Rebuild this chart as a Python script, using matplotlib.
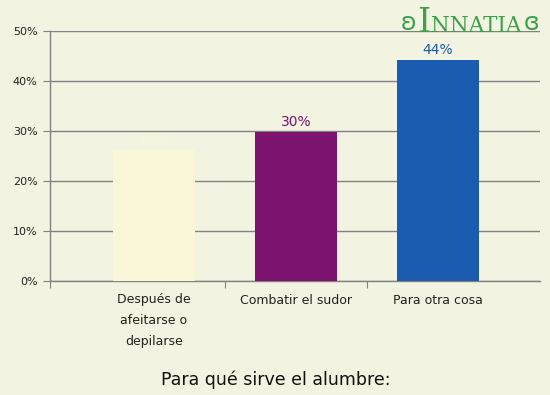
import matplotlib.pyplot as plt

# Chart data
categories = ["Después de\nafeitarse o\ndepilarse", "Combatir el sudor", "Para otra cosa"]
values = [26.2, 29.8, 44.3]
value_labels = ["26%", "30%", "44%"]
bar_colors = ["#faf6d8", "#7b126e", "#1b5cb0"]
y_ticks = [0, 10, 20, 30, 40, 50]
y_tick_labels = ["0%", "10%", "20%", "30%", "40%", "50%"]
title = "Para qué sirve el alumbre:"

bg = "#f2f3e1"
grid_col = "#828282"
logo_col = "#3ba24a"

fig = plt.figure(figsize=(5.5, 3.95), dpi=100, facecolor=bg)
ax = fig.add_axes([50 / 550, 1 - 281 / 395, 490 / 550, 250 / 395])
ax.set_facecolor(bg)

x = list(range(len(categories)))
ax.bar(x, values, width=0.577, color=bar_colors, zorder=3)

# value labels above bars
for xi, v, lab, c in zip(x, values, value_labels, bar_colors):
    ax.text(xi, v + 0.6, lab, ha="center", va="bottom", fontsize=10, color=c, zorder=4)

ax.set_xlim(-0.732, 2.718)
ax.set_ylim(0, 50)

# horizontal grid
ax.set_yticks(y_ticks, y_tick_labels)
ax.yaxis.grid(True, color=grid_col, linewidth=1)
ax.set_axisbelow(True)
ax.tick_params(axis="y", length=5, color=grid_col, labelsize=8, pad=4, labelcolor="#222222")

# separator ticks between categories, labels centred on bars
ax.set_xticks([ax.get_xlim()[0], 0.5, 1.5], ["", "", ""])
ax.tick_params(axis="x", which="major", length=5, color=grid_col)
ax.set_xticks(x, categories, minor=True)
ax.tick_params(axis="x", which="minor", length=0, pad=9, labelsize=9, labelcolor="#222222")
for t in ax.get_xticklabels(minor=True):
    t.set_linespacing(1.75)
    t.set_va("top")

for s in ["top", "right"]:
    ax.spines[s].set_visible(False)
for s in ["left", "bottom"]:
    ax.spines[s].set_color(grid_col)
    ax.spines[s].set_linewidth(1)

fig.text(276 / 550, 1 - 380 / 395, title, ha="center", va="center", fontsize=12.5, color="#111111")

# logo
fig.text(409 / 550, 1 - 23 / 395, "ʚ", ha="center", va="center", fontsize=17, color=logo_col)
fig.text(424 / 550, 1 - 32 / 395, "I", ha="center", va="baseline", fontsize=24,
         color=logo_col, family="DejaVu Serif")
fig.text(431 / 550, 1 - 32 / 395, "NNATIA", ha="left", va="baseline", fontsize=15.5,
         color=logo_col, family="DejaVu Serif")
fig.text(532 / 550, 1 - 23 / 395, "ɞ", ha="center", va="center", fontsize=17, color=logo_col)

fig.savefig("out.png", dpi=100, facecolor=bg)
